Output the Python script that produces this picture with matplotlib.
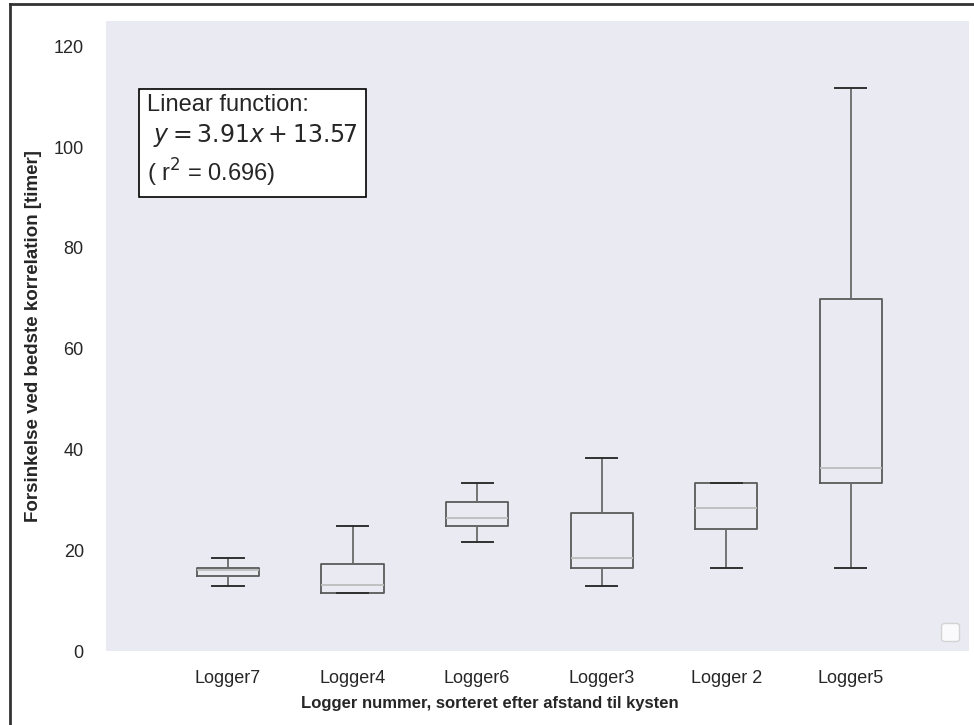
import matplotlib
matplotlib.use("Agg")
import matplotlib.pyplot as plt
from matplotlib.lines import Line2D

plt.rcParams['font.family'] = ['Liberation Sans', 'DejaVu Sans']

loggers = ["Logger7", "Logger4", "Logger6", "Logger3", "Logger 2", "Logger5"]
whislo = [12.9, 11.5, 21.6, 12.9, 16.4, 16.4]
q1 = [14.9, 11.5, 24.9, 16.4, 24.2, 33.3]
med = [16.0, 13.1, 26.3, 18.4, 28.3, 36.4]
q3 = [16.4, 17.2, 29.5, 27.3, 33.3, 69.9]
whishi = [18.4, 24.9, 33.4, 38.2, 33.3, 111.7]

stats = []
for i, name in enumerate(loggers):
    stats.append(dict(label=name, whislo=whislo[i], q1=q1[i], med=med[i],
                      q3=q3[i], whishi=whishi[i], fliers=[]))

fig = plt.figure(figsize=(9.74, 7.25), dpi=100)
ax = fig.add_axes([106/974, 1-651/725, (969-106)/974, (651-21)/725])
ax.set_facecolor('#EAEAF2')
for s in ax.spines.values():
    s.set_visible(False)

ax.bxp(stats, positions=range(1, 7), widths=0.5, showfliers=False,
       boxprops=dict(color='#5a5a5a', linewidth=1.3),
       whiskerprops=dict(color='#6a6a6a', linewidth=1.3),
       capprops=dict(color='#303030', linewidth=1.4),
       medianprops=dict(color='#bdbdbd', linewidth=1.3))

ax.set_ylim(0, 125)
ax.set_xlim(0.02, 6.95)
ax.set_yticks([0, 20, 40, 60, 80, 100, 120])
ax.tick_params(axis='both', length=0, labelsize=13, colors='#262626')
ax.tick_params(axis='y', pad=16)
ax.tick_params(axis='x', pad=14)
ax.set_xticks(range(1, 7))
ax.set_xticklabels(loggers)
ax.set_xlabel("Logger nummer, sorteret efter afstand til kysten",
              fontsize=12, fontweight='bold', color='#262626')
ax.xaxis.set_label_coords(0.445, -0.071)
ax.set_ylabel("Forsinkelse ved bedste korrelation [timer]",
              fontsize=13.5, fontweight='bold', color='#262626', labelpad=8)

ax.text(0.0475, 0.884, "Linear function:\n $y = 3.91x + 13.57$\n( r$^2$ = 0.696)",
        transform=ax.transAxes, fontsize=17, va='top', ha='left',
        color='#262626', linespacing=1.3,
        bbox=dict(boxstyle='square,pad=0.33', facecolor='white',
                  edgecolor='black', linewidth=1.2))

leg = ax.legend(handles=[], loc='lower right', borderpad=0.65, borderaxespad=0.72)

fig.add_artist(Line2D([10/974, 10/974], [0, 1-4/725], transform=fig.transFigure,
                      color='#333333', linewidth=2))
fig.add_artist(Line2D([10/974, 1], [1-4/725, 1-4/725], transform=fig.transFigure,
                      color='#333333', linewidth=2))

fig.savefig("out.png", dpi=100, facecolor='white')
